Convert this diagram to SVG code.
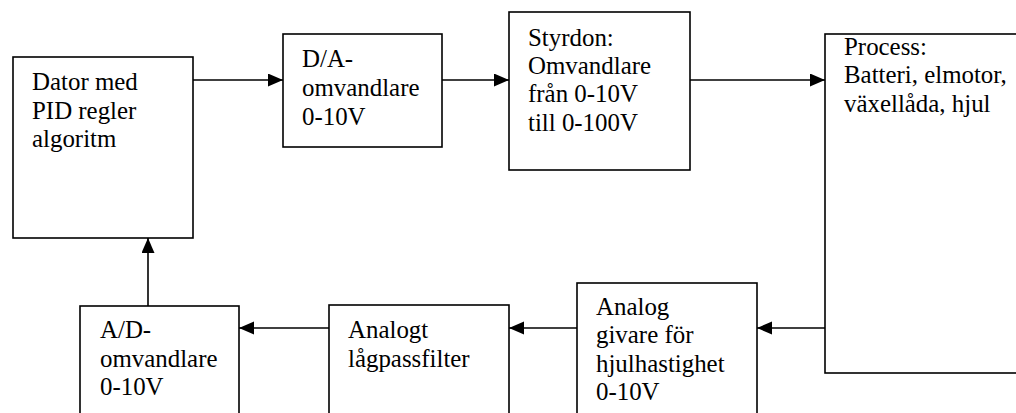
<svg xmlns="http://www.w3.org/2000/svg" width="1016" height="413" viewBox="0 0 1016 413">
<style>
.box{fill:#fff;stroke:#000;stroke-width:1.6}
.t{font-family:'Liberation Serif','Times New Roman',Times,serif;font-size:24.9px;fill:#000}
.c{fill:none;stroke:#000;stroke-width:1.6}
</style>
<defs>
<marker id="ah" markerUnits="userSpaceOnUse" markerWidth="16" markerHeight="14" refX="15" refY="6.5" orient="auto">
<path d="M0,0 L15,6.5 L0,13 Z" fill="#000"/>
</marker>
</defs>
<rect width="1016" height="413" fill="#fff"/>
<g id="dator">
<rect class="box" x="13" y="57" width="180" height="181"/>
<text class="t" x="32" y="90">Dator med</text>
<text class="t" x="32" y="119">PID regler</text>
<text class="t" x="32" y="147">algoritm</text>
</g>
<g id="da">
<rect class="box" x="283" y="34" width="159" height="113"/>
<text class="t" x="302" y="67">D/A-</text>
<text class="t" x="302" y="96">omvandlare</text>
<text class="t" x="302" y="125">0-10V</text>
</g>
<g id="styrdon">
<rect class="box" x="509" y="12" width="181" height="158"/>
<text class="t" x="528" y="46">Styrdon:</text>
<text class="t" x="528" y="74">Omvandlare</text>
<text class="t" x="528" y="102">från 0-10V</text>
<text class="t" x="528" y="131">till 0-100V</text>
</g>
<g id="process">
<rect class="box" x="825" y="34" width="220" height="339"/>
<text class="t" x="844" y="55">Process:</text>
<text class="t" x="844" y="83">Batteri, elmotor,</text>
<text class="t" x="844" y="112">växellåda, hjul</text>
</g>
<g id="givare">
<rect class="box" x="577" y="283" width="180" height="150"/>
<text class="t" x="596" y="315">Analog</text>
<text class="t" x="596" y="343">givare för</text>
<text class="t" x="596" y="372">hjulhastighet</text>
<text class="t" x="596" y="400">0-10V</text>
</g>
<g id="filter">
<rect class="box" x="329" y="305" width="180" height="130"/>
<text class="t" x="348" y="338">Analogt</text>
<text class="t" x="348" y="367">lågpassfilter</text>
</g>
<g id="ad">
<rect class="box" x="80" y="306" width="159" height="130"/>
<text class="t" x="100" y="338">A/D-</text>
<text class="t" x="100" y="367">omvandlare</text>
<text class="t" x="100" y="395">0-10V</text>
</g>
<g id="connectors">
<line class="c" x1="193" y1="80" x2="283" y2="80" marker-end="url(#ah)"/>
<line class="c" x1="442" y1="80" x2="509" y2="80" marker-end="url(#ah)"/>
<line class="c" x1="690" y1="80" x2="825" y2="80" marker-end="url(#ah)"/>
<line class="c" x1="825" y1="328" x2="757" y2="328" marker-end="url(#ah)"/>
<line class="c" x1="577" y1="328" x2="509" y2="328" marker-end="url(#ah)"/>
<line class="c" x1="329" y1="328" x2="239" y2="328" marker-end="url(#ah)"/>
<line class="c" x1="148" y1="306" x2="148" y2="238" marker-end="url(#ah)"/>
</g>
</svg>
